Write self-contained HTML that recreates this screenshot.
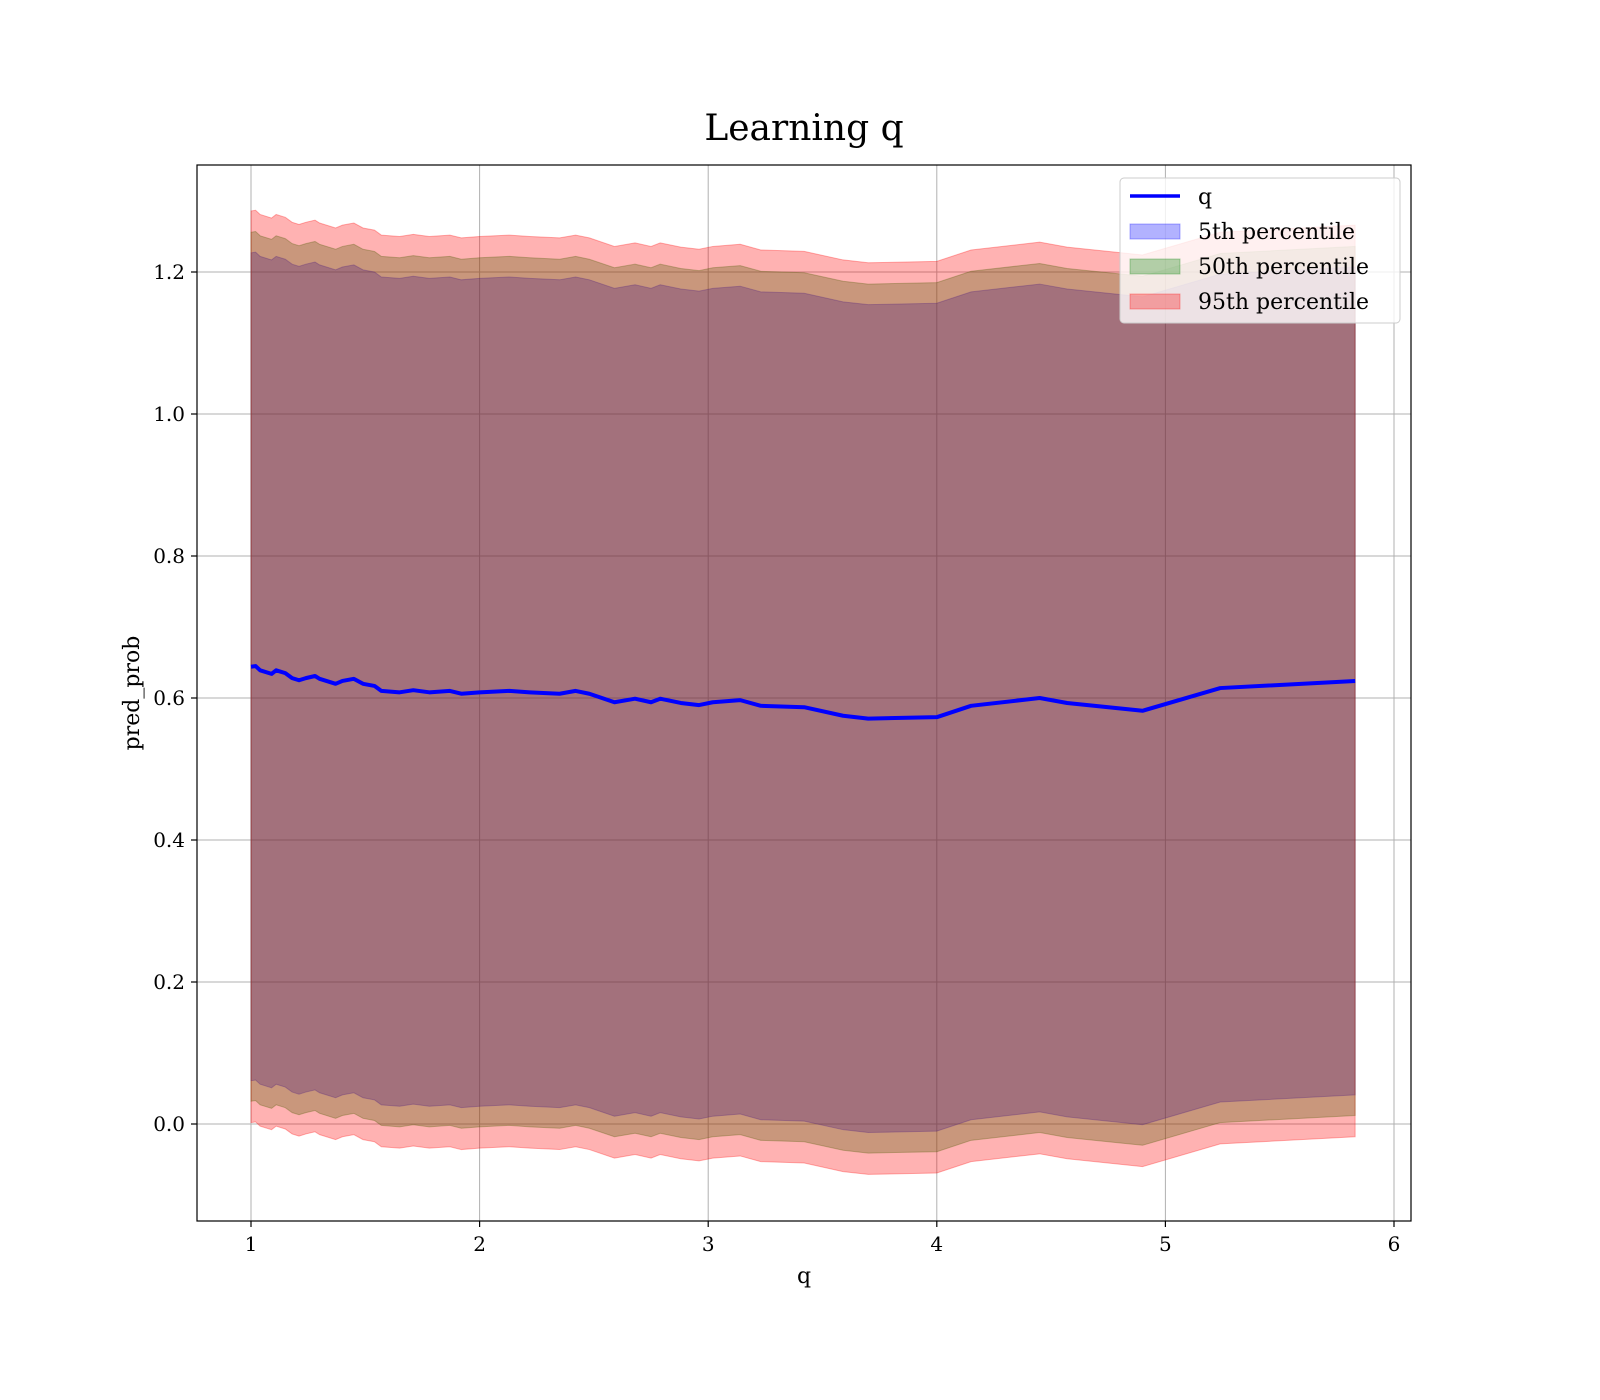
<!DOCTYPE html>
<html><head><meta charset="utf-8"><style>
html,body{margin:0;padding:0;background:#fff;width:1600px;height:1400px;overflow:hidden;}
svg{display:block;}
svg text{font-family:"DejaVu Serif","Liberation Serif",serif;fill:#000;}
</style></head><body>
<svg id="chart" width="1600" height="1400" viewBox="0 0 1600 1400" xmlns="http://www.w3.org/2000/svg">
<rect x="0" y="0" width="1600" height="1400" fill="#fff"/>
<text x="804" y="140" font-size="36" text-anchor="middle">Learning q</text>
<g id="grid"></g>
<g id="bands"></g>
<g id="line"></g>
<rect x="197" y="165" width="1214" height="1056" fill="none" stroke="#000" stroke-width="1.2"/>
<g id="ticks"></g>
<text x="804" y="1283" font-size="22" text-anchor="middle">q</text>
<text x="0" y="0" font-size="22" text-anchor="middle" transform="translate(139,693) rotate(-90)">pred_prob</text>
<g>
<rect x="1120" y="178" width="280" height="145" rx="4" fill="#fff" fill-opacity="0.8" stroke="#ccc"/>
<line x1="1130" y1="196" x2="1180" y2="196" stroke="#0000ff" stroke-width="3.5"/>
<text x="1198" y="204" font-size="22">q</text>
<rect x="1130" y="224" width="50" height="15" fill="rgba(0,0,255,0.3)" stroke="rgba(0,0,255,0.3)"/>
<text x="1198" y="239" font-size="22">5th percentile</text>
<rect x="1130" y="259" width="50" height="15" fill="rgba(0,128,0,0.3)" stroke="rgba(0,128,0,0.3)"/>
<text x="1198" y="274" font-size="22">50th percentile</text>
<rect x="1130" y="294" width="50" height="15" fill="rgba(255,0,0,0.3)" stroke="rgba(255,0,0,0.3)"/>
<text x="1198" y="309" font-size="22">95th percentile</text>
</g>
</svg>
<script>
const qValues=[1.0,1.02,1.04,1.09,1.11,1.15,1.18,1.21,1.24,1.28,1.30,1.37,1.40,1.45,1.49,1.54,1.57,1.65,1.71,1.78,1.87,1.92,2.0,2.13,2.22,2.35,2.42,2.48,2.59,2.68,2.75,2.79,2.88,2.96,3.02,3.14,3.23,3.42,3.59,3.70,4.0,4.15,4.45,4.57,4.90,5.24,5.83];
const meanValues=[0.644,0.645,0.639,0.634,0.639,0.635,0.628,0.625,0.628,0.631,0.627,0.620,0.624,0.627,0.620,0.617,0.610,0.608,0.611,0.608,0.610,0.606,0.608,0.610,0.608,0.606,0.610,0.606,0.594,0.599,0.594,0.599,0.593,0.590,0.594,0.597,0.589,0.587,0.575,0.571,0.573,0.589,0.600,0.593,0.582,0.614,0.624];
const spread5=0.583;
const spread50=0.612;
const spread95=0.642;
const xTicks=[1,2,3,4,5,6];
const yTicks=[0.0,0.2,0.4,0.6,0.8,1.0,1.2];
const NS="http://www.w3.org/2000/svg";
function xs(v){return 251+(v-1)*228.6;}
function ys(v){return 1124-v*710;}
function mk(tag,attrs,parent){const e=document.createElementNS(NS,tag);for(const k in attrs)e.setAttribute(k,attrs[k]);parent.appendChild(e);return e;}
const grid=document.getElementById('grid'),ticks=document.getElementById('ticks');
xTicks.forEach(t=>{const x=xs(t);
 const g=mk('line',{x1:x,y1:165,x2:x,y2:1221,stroke:'#b0b0b0','stroke-width':1},grid);
 
 
 const tk=mk('line',{x1:x,y1:1221,x2:x,y2:1227,stroke:'#000','stroke-width':1.2},ticks);
 
 
 const tl=mk('text',{x:x,y:1251,'font-size':20,'text-anchor':'middle'},ticks);
 tl.textContent=String(t);
 
 
});
yTicks.forEach(t=>{const y=ys(t);
 const g=mk('line',{x1:197,y1:y,x2:1411,y2:y,stroke:'#b0b0b0','stroke-width':1},grid);
 
 
 const tk=mk('line',{x1:191,y1:y,x2:197,y2:y,stroke:'#000','stroke-width':1.2},ticks);
 
 
 const tl=mk('text',{x:185,y:y+7,'font-size':20,'text-anchor':'end'},ticks);
 tl.textContent=t.toFixed(1);
 
 
});
const bands=document.getElementById('bands');
function band(spread,fill,stroke,name){
 let d='';
 qValues.forEach((q,i)=>{d+=(i?'L':'M')+xs(q)+','+ys(meanValues[i]+spread);});
 for(let i=qValues.length-1;i>=0;i--){d+='L'+xs(qValues[i])+','+ys(meanValues[i]-spread);}
 d+='Z';
 const p=mk('path',{d:d,fill:fill,stroke:stroke,'stroke-width':1},bands);
 
 
}
band(spread5,'rgba(0,0,255,0.3)','rgba(0,0,255,0.3)','band-5th-percentile');
band(spread50,'rgba(0,128,0,0.3)','rgba(0,128,0,0.3)','band-50th-percentile');
band(spread95,'rgba(255,0,0,0.3)','rgba(255,0,0,0.3)','band-95th-percentile');
let ld='';
qValues.forEach((q,i)=>{ld+=(i?'L':'M')+xs(q)+','+ys(meanValues[i]);});
const ln=mk('path',{d:ld,fill:'none',stroke:'#0000ff','stroke-width':4,'stroke-linejoin':'round'},document.getElementById('line'));


</script>
</body></html>
